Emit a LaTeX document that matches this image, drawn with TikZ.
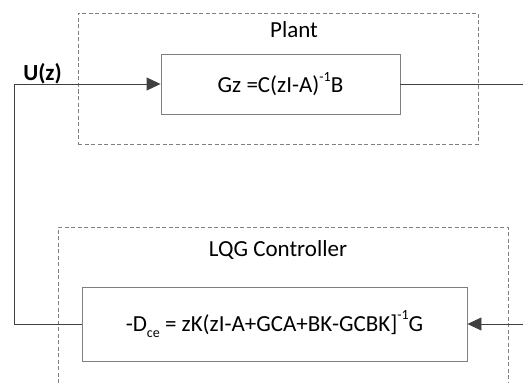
\documentclass[tikz,border=0pt]{standalone}
\usepackage{fontspec}
\setmainfont{Carlito}
\usepackage{tikz}
\usetikzlibrary{arrows.meta}
\definecolor{linegray}{HTML}{404040}
\definecolor{boxgray}{HTML}{7F7F7F}
\definecolor{dashgray}{HTML}{808080}
\newcommand{\supx}[1]{\raisebox{0.5em}{\fontsize{14}{14}\selectfont #1}}
\newcommand{\subx}[1]{\raisebox{-0.25em}{\fontsize{14}{14}\selectfont #1}}
\tikzset{
  block/.style={draw=boxgray, line width=0.9pt, inner sep=0pt},
  group/.style={draw=dashgray, line width=0.9pt, dash pattern=on 4pt off 2.5pt},
  wire/.style={draw=linegray, line width=0.9pt}
}

\begin{document}
\begin{tikzpicture}[x=1pt, y=-1pt, >={Triangle[length=14pt,width=13pt]}, font=\fontsize{23}{27}\selectfont]
    \useasboundingbox (0,0) rectangle (523,383);

    % Plant
    \node (plantgrp) at (278,78.5) [group, minimum width=400pt, minimum height=131pt] {};
    \node (plantlbl) at (294,37) [anchor=base] {Plant};
    \node (plant) at (280.5,84) [block, minimum width=239pt, minimum height=60pt] {Gz =C(zI-A)\supx{-1}B};

    % LQG Controller
    \draw[group] (58,383) -- (58,227) -- (508,227) -- (508,383);
    \node (ctrllbl) at (278,256) [anchor=base] {LQG Controller};
    \node (ctrl) at (274.5,324) [block, minimum width=385pt, minimum height=74pt] {-D\subx{ce} = zK(zI-A+GCA+BK-GCBK]\supx{-1}G};

    % Signals
    \coordinate (uin) at (14,84);
    \coordinate (yout) at (523,84);
    \coordinate (cin) at (523,324);
    \node (ulbl) at (42.5,80) [anchor=base] {\textbf{U(z)}};
    \draw[wire, ->] (uin) -- (plant.west);
    \draw[wire] (plant.east) -- (yout);
    \draw[wire, ->] (cin) -- (ctrl.east);
    \draw[wire] (ctrl.west) -| (uin);
\end{tikzpicture}
\end{document}
